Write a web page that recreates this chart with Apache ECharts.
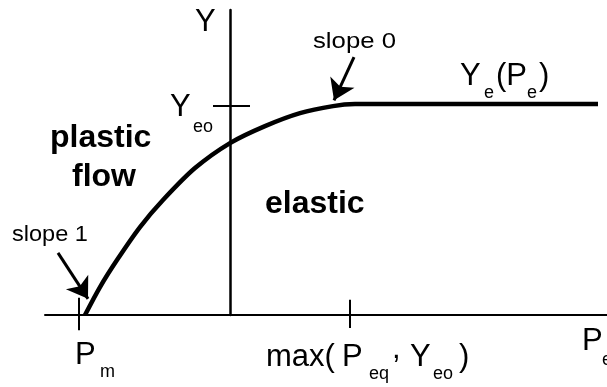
<!DOCTYPE html>
<html>
<head>
<meta charset="utf-8">
<script src="https://cdn.jsdelivr.net/npm/echarts@6/dist/echarts.min.js"></script>
<style>html,body{margin:0;padding:0;background:#fff}#c{width:607px;height:387px}</style>
</head>
<body>
<div id="c"></div>
<script>
// Curve Y(P): plastic flow rising to the flat elastic limit Y_e(P_e)
const curveP = [-2.9, -2.6, -2.26, -1.8, -1.34, -0.7, 0, 0.7, 1.4, 2.06, 2.5, 3.4, 7.36];
const curveY = [0, 0.536, 1.053, 1.684, 2.201, 2.813, 3.292, 3.617, 3.866, 4.0, 4.038, 4.04, 4.04];
// Marked positions on the axes
const tickPm = -3.02;
const tickMax = 2.4;
const tickYeo = 4.0;
const tickSpanY = [-0.29, 0.33];
const tickSpanYmax = [-0.25, 0.29];
const tickSpanX = [-0.34, 0.4];
// Annotation arrows [from, to]
const arrowSlope0 = [[2.48, 4.94], [2.08, 4.11]];
const arrowSlope1 = [[-3.44, 1.19], [-2.84, 0.31]];

const FONT = '"Liberation Sans", Arial, Helvetica, sans-serif';
function txt(s, x, y, size, bold, sx) {
  return {type: 'text', x: x, y: y, scaleX: sx || 1, style: {text: s, fill: '#000', font: (bold ? 'bold ' : '') + size + 'px ' + FONT, textVerticalAlign: 'middle', textAlign: 'left'}};
}

const chart = echarts.init(document.getElementById('c'), null, {renderer: 'canvas'});
const lineBlack = {color: '#000', width: 2};
chart.setOption({
  animation: false,
  backgroundColor: '#fff',
  grid: {left: 45, right: 0, top: 10, bottom: 72},
  xAxis: {type: 'value', min: -3.7, max: 7.54, axisLine: {onZero: false, lineStyle: lineBlack}, axisTick: {show: false}, axisLabel: {show: false}, splitLine: {show: false}},
  yAxis: {type: 'value', min: 0, max: 5.84, axisLine: {onZero: true, lineStyle: {color: '#000', width: 2.5}}, axisTick: {show: false}, axisLabel: {show: false}, splitLine: {show: false}},
  series: [
    {type: 'line', data: curveP.map((p, i) => [p, curveY[i]]), smooth: 0.3, showSymbol: false, lineStyle: {color: '#000', width: 4.5}, clip: false, z: 5},
    {type: 'line', data: [[tickPm, tickSpanY[0]], [tickPm, tickSpanY[1]]], showSymbol: false, lineStyle: lineBlack, clip: false},
    {type: 'line', data: [[tickMax, tickSpanYmax[0]], [tickMax, tickSpanYmax[1]]], showSymbol: false, lineStyle: lineBlack, clip: false},
    {type: 'line', data: [[tickSpanX[0], tickYeo], [tickSpanX[1], tickYeo]], showSymbol: false, lineStyle: lineBlack, clip: false},
    {type: 'lines', coordinateSystem: 'cartesian2d', symbol: ['none', 'arrow'], symbolSize: 20,
     lineStyle: {color: '#000', width: 3, curveness: 0, opacity: 1},
     data: [{coords: arrowSlope0}, {coords: arrowSlope1}], clip: false}
  ],
  graphic: [
    txt('Y', 195, 22, 31, false),
    txt('Y', 170, 107, 31, false), txt('eo', 193, 127, 18, false),
    txt('plastic', 50, 138, 32, true),
    txt('flow', 72, 177, 32, true),
    txt('elastic', 265, 204, 32, true),
    txt('slope 0', 313, 42, 22, false, 1.17),
    txt('slope 1', 12, 235, 22, false, 1.07),
    txt('Y', 460, 76, 31, false), txt('e', 484, 93, 18, false), txt('(P', 496, 76, 31, false), txt('e', 527, 93, 18, false), txt(')', 539, 76, 31, false),
    txt('P', 75, 355, 31, false), txt('m', 100, 372, 18, false),
    txt('max(', 266, 357, 31, false), txt('P', 342, 357, 31, false), txt('eq', 369, 374, 18, false), txt(',', 392, 349, 31, false),
    txt('Y', 410, 357, 31, false), txt('eo', 433, 374, 18, false), txt(')', 459, 357, 31, false),
    txt('P', 582, 341, 31, false), txt('e', 602, 360, 18, false)
  ]
});
</script>
</body>
</html>
